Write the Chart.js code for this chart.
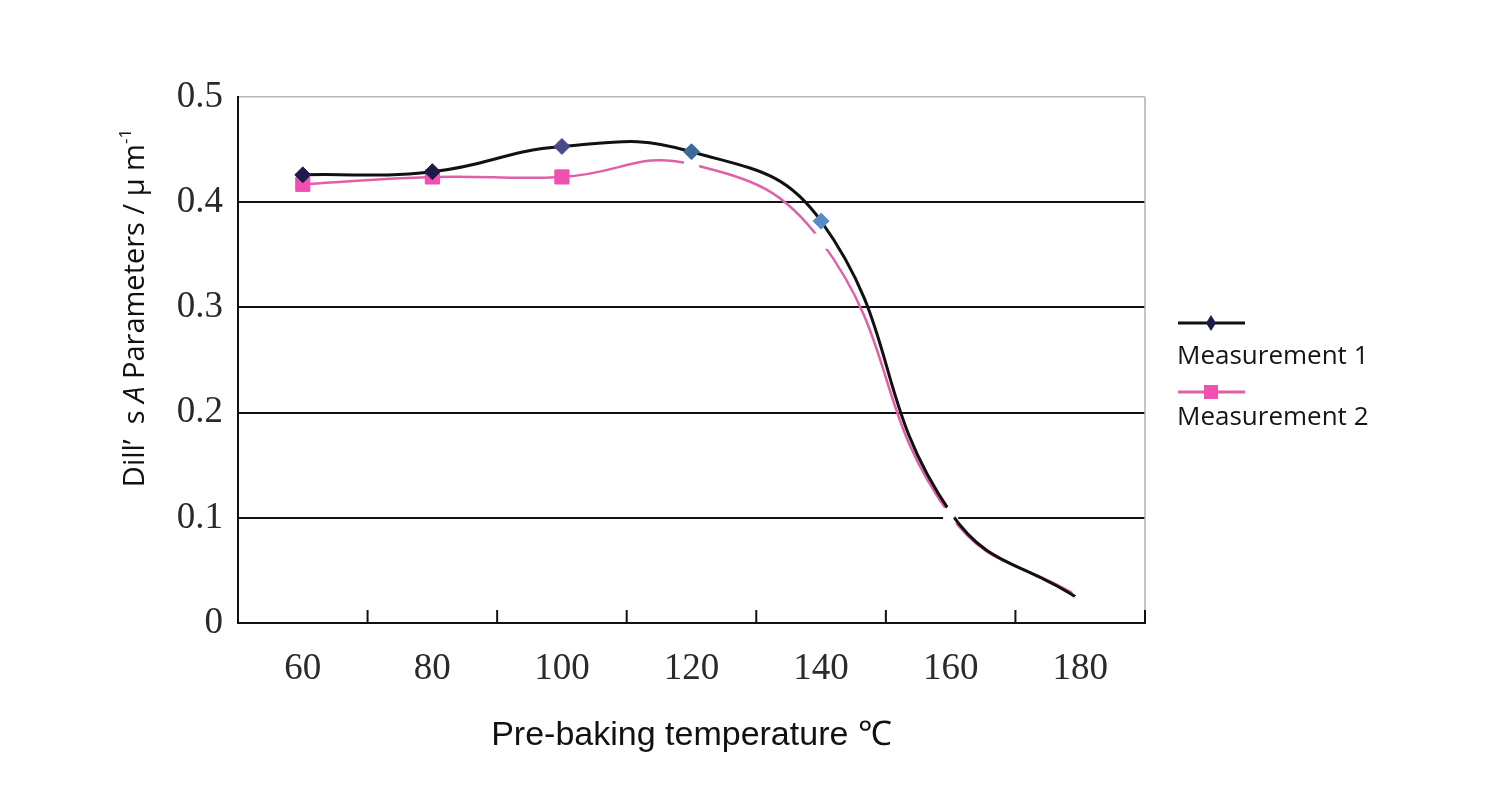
<!DOCTYPE html>
<html>
<head>
<meta charset="utf-8">
<script src="https://cdn.jsdelivr.net/npm/chart.js@4"></script>
<style>
  html, body { margin: 0; padding: 0; background: #ffffff; }
  #wrap { width: 1500px; height: 800px; }
</style>
</head>
<body>
<div id="wrap"><canvas id="c" width="1500" height="800"></canvas></div>
<script>
const temperatures = ['60', '80', '100', '120', '140', '160', '180'];
const measurement1 = [0.426, 0.429, 0.453, 0.448, 0.382, 0.105, 0.022];
const measurement2 = [0.417, 0.424, 0.424, 0.436, 0.363, 0.102, 0.024];
const seriesNames = ['Measurement 1', 'Measurement 2'];
const yTicks = [0, 0.1, 0.2, 0.3, 0.4, 0.5];

const m1PointColors = ['#1c1c4a', '#1c1c4a', '#4a4a8a', '#3a6a9a', '#5a8ac8', '#ffffff', '#ffffff'];
const m2PointColors = ['#f050b0', '#f050b0', '#f050b0', '#ffffff', '#ffffff', '#ffffff', '#ffffff'];

const CHART_LEFT = 238, CHART_BOTTOM = 623;

const decorPlugin = {
  id: 'decor',
  afterDraw(chart) {
    const ctx = chart.ctx;
    const xs = chart.scales.x;
    const area = chart.chartArea;
    ctx.save();
    // right border
    ctx.strokeStyle = '#b0b0b0';
    ctx.lineWidth = 1.5;
    ctx.beginPath();
    ctx.moveTo(area.right, area.top);
    ctx.lineTo(area.right, area.bottom);
    ctx.stroke();
    // inward ticks at category boundaries
    ctx.strokeStyle = '#111';
    ctx.lineWidth = 2;
    const n = chart.data.labels.length;
    for (let i = 0; i < n; i++) {
      let px;
      if (i < n - 1) px = (xs.getPixelForValue(i) + xs.getPixelForValue(i + 1)) / 2;
      else px = area.right;
      ctx.beginPath();
      ctx.moveTo(px, area.bottom);
      ctx.lineTo(px, area.bottom - 13);
      ctx.stroke();
    }
    // y axis title (rich text)
    const parts = [
      {t: 'Dill’  s ', f: '29px "Open Sans"'},
      {t: 'A', f: 'italic 29px "Open Sans"'},
      {t: ' Parameters / μ m', f: '29px "Open Sans"'},
      {t: '-1', f: '17px "Open Sans"', sup: true}
    ];
    let total = 0;
    parts.forEach(p => { ctx.font = p.f; p.w = ctx.measureText(p.t).width; total += p.w; });
    ctx.translate(136, 308);
    ctx.rotate(-Math.PI / 2);
    ctx.fillStyle = '#111';
    ctx.textBaseline = 'middle';
    ctx.textAlign = 'left';
    let x = -total / 2;
    parts.forEach(p => {
      ctx.font = p.f;
      ctx.fillText(p.t, x, p.sup ? -10 : 0);
      x += p.w;
    });
    ctx.setTransform(1, 0, 0, 1, 0, 0);
    // legend
    const legendY = [[323, 357], [392, 418]];
    chart.data.datasets.forEach((ds, i) => {
      const ly = legendY[i][0];
      ctx.strokeStyle = ds.borderColor;
      ctx.lineWidth = 3;
      ctx.beginPath();
      ctx.moveTo(1178, ly);
      ctx.lineTo(1245, ly);
      ctx.stroke();
      ctx.fillStyle = i === 0 ? '#1c1c4a' : '#f050b0';
      ctx.beginPath();
      if (i === 0) {
        ctx.moveTo(1211, ly - 8); ctx.lineTo(1216, ly); ctx.lineTo(1211, ly + 8); ctx.lineTo(1206, ly);
        ctx.closePath();
      } else {
        ctx.rect(1204, ly - 7, 14, 14);
      }
      ctx.fill();
      ctx.fillStyle = '#151515';
      ctx.font = '26px "Open Sans"';
      ctx.textBaseline = 'middle';
      ctx.textAlign = 'left';
      ctx.fillText(ds.label, 1177, legendY[i][1]);
    });
    ctx.restore();
  }
};

new Chart(document.getElementById('c'), {
  type: 'line',
  data: {
    labels: temperatures,
    datasets: [
      {
        label: seriesNames[0],
        data: measurement1,
        borderColor: '#111111',
        borderWidth: 3,
        tension: 0.45,
        pointStyle: 'rectRot',
        pointRadius: 8,
        pointBackgroundColor: m1PointColors,
        pointBorderColor: m1PointColors,
        pointBorderWidth: 1,
        fill: false
      },
      {
        label: seriesNames[1],
        data: measurement2,
        borderColor: '#e060a8',
        borderWidth: 2.5,
        tension: 0.45,
        pointStyle: 'rect',
        pointRadius: 10,
        pointBackgroundColor: m2PointColors,
        pointBorderColor: m2PointColors,
        pointBorderWidth: 1,
        fill: false
      }
    ]
  },
  options: {
    responsive: false,
    animation: false,
    devicePixelRatio: 1,
    layout: { padding: { left: 0, top: 97, right: 355, bottom: 0 } },
    plugins: { legend: { display: false }, tooltip: { enabled: false } },
    scales: {
      x: {
        offset: true,
        grid: { display: false, drawTicks: false },
        border: { display: true, color: '#111', width: 2 },
        ticks: {
          padding: 24,
          color: '#2a2a2a',
          font: { family: '"Liberation Serif"', size: 37 }
        },
        title: {
          display: true,
          text: 'Pre-baking temperature ℃',
          color: '#111',
          font: { family: '"Liberation Sans"', size: 34 },
          padding: { top: 0, bottom: 44 }
        },
        afterFit: s => { s.height = 800 - CHART_BOTTOM; }
      },
      y: {
        min: 0,
        max: 0.5,
        afterBuildTicks: s => { s.ticks = yTicks.map(v => ({ value: v })); },
        grid: {
          drawTicks: false,
          color: c => (c.tick && c.tick.value === 0.5) ? '#b8b8b8' : '#111',
          lineWidth: c => (c.tick && c.tick.value === 0.5) ? 1.5 : 2
        },
        border: { display: true, color: '#111', width: 2 },
        ticks: {
          padding: 15,
          color: '#2a2a2a',
          font: { family: '"Liberation Serif"', size: 37 },
          callback: v => (v === 0 ? '0' : String(Math.round(v * 10) / 10))
        },
        afterFit: s => { s.width = CHART_LEFT; }
      }
    }
  },
  plugins: [decorPlugin]
});
</script>
</body>
</html>
